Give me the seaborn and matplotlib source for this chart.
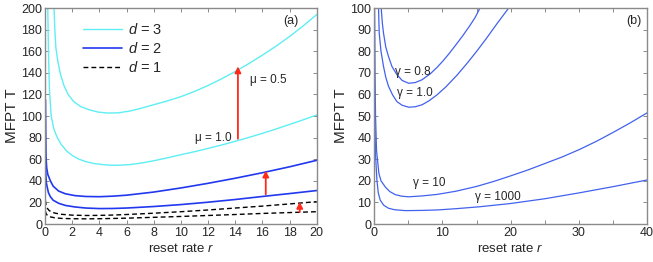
import numpy as np
import pandas as pd
import matplotlib
matplotlib.use("Agg")
import matplotlib.pyplot as plt
import seaborn as sns
from matplotlib.ticker import MultipleLocator

# panel (a): MFPT vs reset rate, d = 3, 2, 1 for mu = 0.5 (upper) and mu = 1.0 (lower)
d3_mu05_r = [0.66, 0.72, 0.8, 0.95, 1.15, 1.4, 1.7, 2.1, 2.6, 3.2, 3.9, 4.6, 5.4, 6.3, 7, 8, 9, 10,
             11, 12, 13, 14, 15, 16, 17, 18, 19, 20]
d3_mu05_T = [200, 180, 163, 150, 138, 128, 120, 113.5, 109, 106, 103.7, 102.8, 103, 104.8, 107, 110.5, 114, 118,
             122.8, 128.3, 134.5, 141.3, 148.6, 156.4, 164.7, 173.7, 183.5, 194]
d3_mu10_r = [0.2, 0.25, 0.32, 0.45, 0.65, 0.9, 1.2, 1.6, 2.0, 2.5, 3.0, 3.6, 4.5, 5.3, 6.2, 7, 8, 9, 10,
             11, 12, 13, 14, 15, 16, 17, 18, 19, 20]
d3_mu10_T = [200, 160, 125, 100, 88, 80, 73.5, 67.5, 63.5, 60, 57.8, 56, 54.7, 54.4, 55, 56.3, 58.6, 61.3, 64.2,
             67, 70, 73.2, 76.6, 80.2, 84, 88, 92.2, 96.5, 101]
d2_mu05_r = [0.03, 0.05, 0.07, 0.12, 0.2, 0.39, 0.6, 1.0, 1.5, 2.2, 3.0, 4.0, 5.0, 6, 8, 10, 12, 14, 16, 18, 20]
d2_mu05_T = [115, 85, 62, 52, 46, 40, 35, 30.5, 28, 26.3, 25.5, 25.3, 25.8, 26.7, 29.6, 33.4, 37.7, 42.4, 47.5, 53, 59]
d2_mu10_r = [0.03, 0.06, 0.1, 0.15, 0.25, 0.39, 0.6, 1.0, 1.5, 2.2, 3, 4, 5, 6, 8, 10, 12, 14, 16, 18, 20]
d2_mu10_T = [62, 45, 38, 34.6, 29, 25.3, 22, 19.2, 17.2, 15.8, 14.8, 14.3, 14.4, 14.8, 16.2, 18, 20.2, 22.7, 25.5, 28.2, 31]
d1_mu05_r = [0.02, 0.08, 0.15, 0.3, 0.5, 0.76, 1.2, 2, 3, 4, 5, 6, 8, 10, 12, 14, 16, 18, 20]
d1_mu05_T = [22, 17, 14.8, 12.5, 11, 10, 9, 8.2, 7.9, 8, 8.3, 8.8, 10, 11.4, 13, 14.8, 16.6, 18.6, 20.7]
d1_mu10_r = [0.02, 0.08, 0.2, 0.39, 0.7, 1.2, 2, 3, 4, 6, 8, 10, 12, 14, 16, 18, 20]
d1_mu10_T = [12, 9.5, 7.5, 6.6, 5.8, 5.2, 4.9, 4.8, 4.9, 5.4, 6.2, 7, 7.9, 8.8, 9.8, 10.6, 11.4]

# red arrows mu = 1.0 -> mu = 0.5
arrow_r = [14.2, 16.25, 18.75]
arrow_from = [79, 27.5, 11]
arrow_to = [146, 49.5, 20.5]

# panel (b): MFPT vs reset rate for several gamma
g08_r = [1.03, 1.2, 1.37, 1.7, 2.1, 2.6, 3.33, 4.1, 5.05, 6, 7, 8.2, 9.2, 10.1, 11, 12.1, 13, 14, 14.8, 15.5]
g08_T = [100, 93, 88.4, 82, 77.6, 73, 69.2, 66.5, 65.2, 65.5, 66.8, 69.5, 72.5, 75.6, 79, 83.5, 87.3, 91.8, 95.7, 100]
g10_r = [0.64, 0.74, 1.0, 1.37, 1.7, 2.1, 2.7, 3.33, 4.1, 5.05, 6, 7, 8, 9.2, 10.5, 12.1, 13.5, 15, 16.5, 18, 19.7]
g10_T = [100, 88.4, 80, 73, 68, 63.8, 59.8, 56.7, 55, 54.1, 54.3, 55.2, 57, 59.8, 63.5, 68.8, 74, 79.9, 86.2, 92.8, 100]
g100_r = [0.06, 0.12, 0.2, 0.35, 0.69, 1.0, 1.67, 2.3, 3.1, 4.0, 5.05, 7, 9.2, 12, 15, 17.5, 20, 22.5, 25,
          27.5, 30, 32.5, 35, 37.5, 40]
g100_T = [100, 70, 50, 34, 23.5, 20, 17, 15, 13.6, 12.9, 12.6, 13, 13.7, 15.2, 17.4, 19.7, 22.3, 25, 28,
          31, 34.4, 38.2, 42.4, 46.8, 51.5]
g1000_r = [0.03, 0.06, 0.1, 0.2, 0.4, 0.6, 0.88, 1.4, 2.1, 3, 4.6, 7, 9.2, 12, 15.5, 20, 25, 30, 35, 40]
g1000_T = [100, 70, 48, 32, 20.4, 14.5, 11.1, 8.7, 7.3, 6.6, 6.2, 6.3, 6.5, 7.1, 8.0, 9.5, 11.7, 14.4, 17.3, 20.4]

sns.set_style("ticks")
plt.rcParams['font.family'] = ['Liberation Sans', 'DejaVu Sans']
plt.rcParams['mathtext.fontset'] = 'custom'
plt.rcParams['mathtext.it'] = 'Liberation Sans:italic'
plt.rcParams['mathtext.rm'] = 'Liberation Sans'

cyan = '#5eeef4'
blue = '#2238ee'
blue_b = '#4262ee'
red = '#ff2a1a'
grey = '#8a8a8a'

fig = plt.figure(figsize=(6.53, 2.62), dpi=100)
ax1 = fig.add_axes([0.069, 0.145, 0.416, 0.824])
ax2 = fig.add_axes([0.573, 0.145, 0.418, 0.824])

# panel (a)
sns.lineplot(x=d3_mu05_r, y=d3_mu05_T, ax=ax1, color=cyan, lw=1.0, sort=False, estimator=None, label='$d$ = 3')
sns.lineplot(x=d3_mu10_r, y=d3_mu10_T, ax=ax1, color=cyan, lw=1.0, sort=False, estimator=None)
sns.lineplot(x=d2_mu05_r, y=d2_mu05_T, ax=ax1, color=blue, lw=1.2, sort=False, estimator=None, label='$d$ = 2')
sns.lineplot(x=d2_mu10_r, y=d2_mu10_T, ax=ax1, color=blue, lw=1.2, sort=False, estimator=None)
sns.lineplot(x=d1_mu05_r, y=d1_mu05_T, ax=ax1, color='black', lw=1.0, ls=(0, (3.5, 2.2)), sort=False,
             estimator=None, label='$d$ = 1')
sns.lineplot(x=d1_mu10_r, y=d1_mu10_T, ax=ax1, color='black', lw=1.0, ls=(0, (3.5, 2.2)), sort=False,
             estimator=None)

for r, t0, t1 in zip(arrow_r, arrow_from, arrow_to):
    ax1.annotate('', xy=(r, t1), xytext=(r, t0),
                 arrowprops=dict(arrowstyle='-|>', color=red, lw=1.3, mutation_scale=9,
                                 shrinkA=0, shrinkB=0))

ax1.text(13.75, 80, 'μ = 1.0', fontsize=8.5, ha='right', va='center')
ax1.text(15.1, 133, 'μ = 0.5', fontsize=8.5, ha='left', va='center')
ax1.text(18.1, 188, '(a)', fontsize=9, ha='center', va='center')

ax1.set_xlim(0, 20)
ax1.set_ylim(0, 200)
ax1.xaxis.set_major_locator(MultipleLocator(2))
ax1.yaxis.set_major_locator(MultipleLocator(20))
ax1.legend(loc='upper left', bbox_to_anchor=(0.14, 0.935), frameon=False, fontsize=10.5,
           handlelength=2.7, handletextpad=0.35, labelspacing=0.28, borderpad=0, borderaxespad=0)

# panel (b)
for rr, tt in [(g08_r, g08_T), (g10_r, g10_T), (g100_r, g100_T), (g1000_r, g1000_T)]:
    sns.lineplot(x=rr, y=tt, ax=ax2, color=blue_b, lw=0.9, sort=False, estimator=None)

ax2.text(3.0, 70.6, 'γ = 0.8', fontsize=8.5, ha='left', va='center')
ax2.text(3.3, 60.6, 'γ = 1.0', fontsize=8.5, ha='left', va='center')
ax2.text(5.7, 18.9, 'γ = 10', fontsize=8.5, ha='left', va='center')
ax2.text(14.8, 12.7, 'γ = 1000', fontsize=8.5, ha='left', va='center')
ax2.text(38.1, 94, '(b)', fontsize=9, ha='center', va='center')

ax2.set_xlim(0, 40)
ax2.set_ylim(0, 100)
ax2.xaxis.set_major_locator(MultipleLocator(10))
ax2.xaxis.set_minor_locator(MultipleLocator(5))
ax2.yaxis.set_major_locator(MultipleLocator(10))

for ax in (ax1, ax2):
    ax.set_xlabel('reset rate $r$', fontsize=9.5, labelpad=2)
    ax.set_ylabel('MFPT T', fontsize=11, labelpad=2)
    ax.tick_params(which='both', direction='in', top=True, right=True, length=3, width=0.7,
                   color=grey, labelsize=9, pad=2)
    for s in ax.spines.values():
        s.set_color(grey)
        s.set_linewidth(1.0)

fig.savefig('out.png', dpi=100)
